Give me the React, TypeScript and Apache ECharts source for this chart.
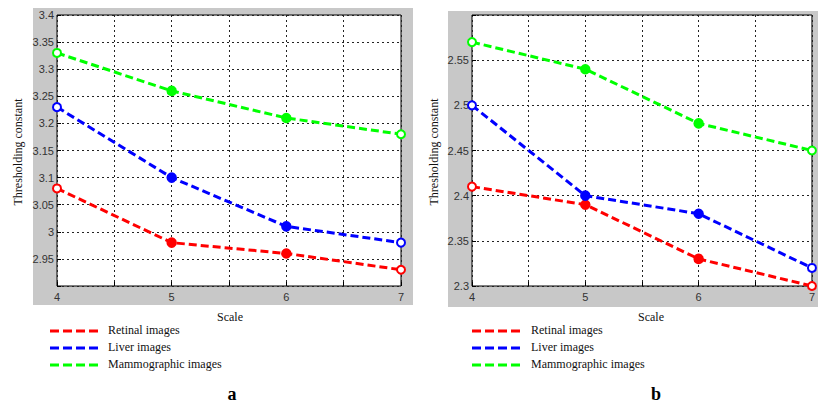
import React, { useEffect, useRef } from "react";
import * as echarts from "echarts";

const scales = [4, 5, 6, 7];
const seriesNames = ["Retinal images", "Liver images", "Mammographic images"];
const seriesColors = ["#ff0000", "#0000ff", "#00ff00"];

const retinalA = [3.08, 2.98, 2.96, 2.93];
const liverA = [3.23, 3.1, 3.01, 2.98];
const mammoA = [3.33, 3.26, 3.21, 3.18];

const retinalB = [2.41, 2.39, 2.33, 2.3];
const liverB = [2.5, 2.4, 2.38, 2.32];
const mammoB = [2.57, 2.54, 2.48, 2.45];

const yAxisA = { min: 2.9, max: 3.4, interval: 0.05, hidden: [2.9] };
const yAxisB = { min: 2.3, max: 2.6, interval: 0.05, hidden: [2.6] };

const panelLabels = ["a", "b"];
const yTitle = "Thresholding constant";
const xTitle = "Scale";

const SERIF = "'Liberation Serif', 'DejaVu Serif', serif";
const SANS = "'Liberation Sans', Arial, sans-serif";

export default function App() {
  const ref = useRef<HTMLDivElement>(null);

  useEffect(() => {
    if (!ref.current) return;
    const chart = echarts.init(ref.current, undefined, { renderer: "svg" });

    const grids = [
      { left: 57, top: 15, width: 344, height: 271 },
      { left: 472, top: 15, width: 344, height: 271 },
    ];

    const xAxisOf = (gi: number) => ({
      type: "value",
      gridIndex: gi,
      min: 4,
      max: 7,
      interval: 0.5,
      axisLine: { show: false },
      axisTick: { show: true, inside: true, length: 4, lineStyle: { color: "#000" } },
      axisLabel: {
        margin: 5,
        color: "#333",
        fontFamily: SANS,
        fontSize: 11,
        formatter: (v: number) => (Math.abs(v - Math.round(v)) < 1e-6 ? String(Math.round(v)) : ""),
      },
      splitLine: { show: true, lineStyle: { color: "#222", type: [2, 3], width: 1 } },
    });

    const yAxisOf = (gi: number, cfg: typeof yAxisA) => ({
      type: "value",
      gridIndex: gi,
      min: cfg.min,
      max: cfg.max,
      interval: cfg.interval,
      axisLine: { show: false },
      axisTick: { show: true, inside: true, length: 4, lineStyle: { color: "#000" } },
      axisLabel: {
        margin: 3,
        color: "#333",
        fontFamily: SANS,
        fontSize: 11,
        formatter: (v: number) => {
          const r = Math.round(v * 1000) / 1000;
          if (cfg.hidden.some((h) => Math.abs(h - r) < 1e-6)) return "";
          return String(r);
        },
      },
      splitLine: { show: true, lineStyle: { color: "#222", type: [2, 3], width: 1 } },
    });

    const makeSeries = (gi: number, arrs: number[][]) =>
      arrs.map((arr, i) => ({
        type: "line",
        name: seriesNames[i],
        xAxisIndex: gi,
        yAxisIndex: gi,
        clip: false,
        data: arr.map((v, k) => ({
          value: [scales[k], v],
          symbol: k === 0 || k === arr.length - 1 ? "emptyCircle" : "circle",
        })),
        symbolSize: 8,
        lineStyle: { color: seriesColors[i], width: 3, type: [8, 4] },
        itemStyle: { color: seriesColors[i], borderColor: seriesColors[i], borderWidth: 2.5 },
        z: 3 + i,
      }));

    const graphics: any[] = [
      { type: "rect", shape: { x: 33, y: 8, width: 380, height: 297 }, style: { fill: "#c8c8c8" }, z: -10, silent: true },
      { type: "rect", shape: { x: 448, y: 11, width: 372, height: 296 }, style: { fill: "#c8c8c8" }, z: -10, silent: true },
    ];

    const panelGeom = [
      { yTitleX: 18, xTitleX: 230, legendLineX: 50, legendTextX: 108, labelX: 232 },
      { yTitleX: 434, xTitleX: 651, legendLineX: 472, legendTextX: 531, labelX: 656 },
    ];

    panelGeom.forEach((p, pi) => {
      graphics.push({
        type: "text",
        x: p.yTitleX,
        y: 152,
        rotation: Math.PI / 2,
        style: {
          text: yTitle,
          fill: "#111",
          font: `12px ${SERIF}`,
          textAlign: "center",
          textVerticalAlign: "middle",
        },
      });
      graphics.push({
        type: "text",
        x: p.xTitleX,
        y: 317,
        style: { text: xTitle, fill: "#111", font: `12px ${SERIF}`, textAlign: "center", textVerticalAlign: "middle" },
      });
      seriesNames.forEach((name, i) => {
        const y = 331 + i * 17;
        graphics.push({
          type: "line",
          shape: { x1: p.legendLineX, y1: y, x2: p.legendLineX + 48, y2: y },
          style: { stroke: seriesColors[i], lineWidth: 3, lineDash: [9, 4] },
        });
        graphics.push({
          type: "text",
          x: p.legendTextX,
          y: y - 1,
          style: { text: name, fill: "#111", font: `12px ${SERIF}`, textAlign: "left", textVerticalAlign: "middle" },
        });
      });
      graphics.push({
        type: "text",
        x: p.labelX,
        y: 394,
        style: {
          text: panelLabels[pi],
          fill: "#000",
          font: `bold 18px ${SERIF}`,
          textAlign: "center",
          textVerticalAlign: "middle",
        },
      });
    });

    chart.setOption({
      animation: false,
      backgroundColor: "#ffffff",
      grid: grids.map((g) => ({
        ...g,
        show: true,
        backgroundColor: "#ffffff",
        borderColor: "#000",
        borderWidth: 1,
        containLabel: false,
      })),
      xAxis: [xAxisOf(0), xAxisOf(1)],
      yAxis: [yAxisOf(0, yAxisA), yAxisOf(1, yAxisB)],
      series: [...makeSeries(0, [retinalA, liverA, mammoA]), ...makeSeries(1, [retinalB, liverB, mammoB])],
      graphic: graphics,
    });

    return () => chart.dispose();
  }, []);

  return (
    <div
      ref={ref}
      style={{ position: "fixed", left: 0, top: 0, width: 818, height: 404 }}
    />
  );
}
